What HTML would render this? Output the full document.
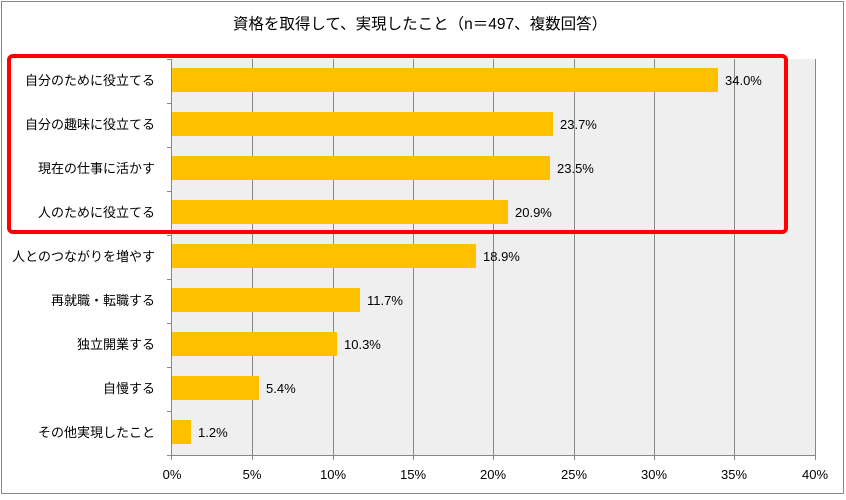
<!DOCTYPE html>
<html><head><meta charset="utf-8"><style>
body{margin:0;background:#fff}
text{font-family:"Liberation Sans","Noto Sans CJK JP",sans-serif;fill:#000}
</style></head><body>
<svg width="846" height="495" xmlns="http://www.w3.org/2000/svg">
<rect x="1.5" y="1.5" width="842" height="492" fill="#fff" stroke="#888"/>
<text x="420" y="29" font-size="15.5" text-anchor="middle">資格を取得して、実現したこと（n＝497、複数回答）</text>
<rect x="172" y="59" width="643" height="396" fill="#efefef"/>
<g stroke="#888" stroke-width="1">
<line x1="252.5" y1="59" x2="252.5" y2="460"/><line x1="333.5" y1="59" x2="333.5" y2="460"/>
<line x1="413.5" y1="59" x2="413.5" y2="460"/><line x1="493.5" y1="59" x2="493.5" y2="460"/>
<line x1="574.5" y1="59" x2="574.5" y2="460"/><line x1="654.5" y1="59" x2="654.5" y2="460"/>
<line x1="734.5" y1="59" x2="734.5" y2="460"/><line x1="815.5" y1="59" x2="815.5" y2="460"/>
<line x1="171.5" y1="59" x2="171.5" y2="460"/><line x1="167" y1="455.5" x2="815" y2="455.5"/>
<line x1="167" y1="59.5" x2="172" y2="59.5"/><line x1="167" y1="103.5" x2="172" y2="103.5"/>
<line x1="167" y1="147.5" x2="172" y2="147.5"/><line x1="167" y1="191.5" x2="172" y2="191.5"/>
<line x1="167" y1="235.5" x2="172" y2="235.5"/><line x1="167" y1="279.5" x2="172" y2="279.5"/>
<line x1="167" y1="323.5" x2="172" y2="323.5"/><line x1="167" y1="367.5" x2="172" y2="367.5"/>
<line x1="167" y1="411.5" x2="172" y2="411.5"/>
</g>
<g fill="#ffc000">
<rect x="172" y="68" width="546" height="24"/>
<rect x="172" y="112" width="381" height="24"/>
<rect x="172" y="156" width="378" height="24"/>
<rect x="172" y="200" width="336" height="24"/>
<rect x="172" y="244" width="304" height="24"/>
<rect x="172" y="288" width="188" height="24"/>
<rect x="172" y="332" width="165" height="24"/>
<rect x="172" y="376" width="87" height="24"/>
<rect x="172" y="420" width="19" height="24"/>
</g>
<g font-size="13">
<text x="725" y="85">34.0%</text><text x="560" y="129">23.7%</text><text x="557" y="173">23.5%</text>
<text x="515" y="217">20.9%</text><text x="483" y="261">18.9%</text><text x="367" y="305">11.7%</text>
<text x="344" y="349">10.3%</text><text x="266" y="393">5.4%</text><text x="198" y="437">1.2%</text>
</g>
<g font-size="13" text-anchor="end">
<text x="155" y="85">自分のために役立てる</text><text x="155" y="129">自分の趣味に役立てる</text>
<text x="155" y="173">現在の仕事に活かす</text><text x="155" y="217">人のために役立てる</text>
<text x="155" y="261">人とのつながりを増やす</text><text x="155" y="305">再就職・転職する</text>
<text x="155" y="349">独立開業する</text><text x="155" y="393">自慢する</text>
<text x="155" y="437">その他実現したこと</text>
</g>
<g font-size="13" text-anchor="middle">
<text x="172" y="479">0%</text><text x="252" y="479">5%</text><text x="333" y="479">10%</text>
<text x="413" y="479">15%</text><text x="493" y="479">20%</text><text x="574" y="479">25%</text>
<text x="654" y="479">30%</text><text x="734" y="479">35%</text><text x="815" y="479">40%</text>
</g>
<rect x="9" y="56" width="777" height="176" rx="4" fill="none" stroke="#ff0000" stroke-width="4"/>
</svg>
</body></html>
